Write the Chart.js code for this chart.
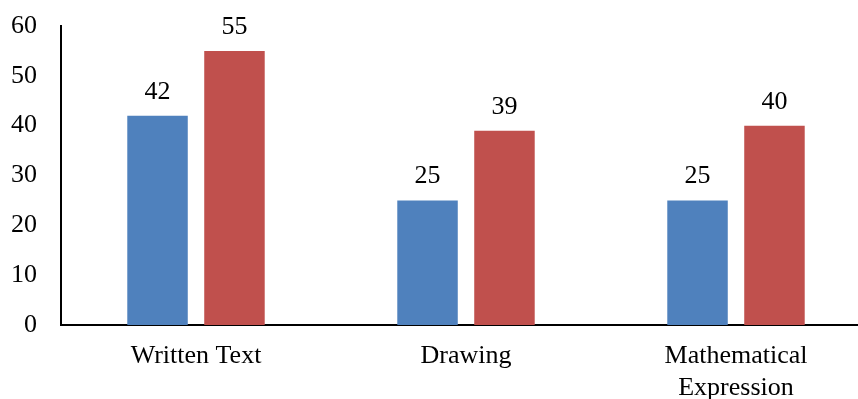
<!DOCTYPE html>
<html>
<head>
<meta charset="utf-8">
<script src="https://cdn.jsdelivr.net/npm/chart.js@4.4.0/dist/chart.umd.min.js"></script>
<style>
  html, body { margin: 0; padding: 0; background: #fff; overflow: hidden; }
</style>
</head>
<body>
<canvas id="barChart" width="871" height="399"></canvas>

<script>
  // categories and series values
  const categories = ["Written Text", "Drawing", ["Mathematical", "Expression"]];
  const seriesBlue = [42, 25, 25];
  const seriesRed = [55, 39, 40];
  const yTicks = [0, 10, 20, 30, 40, 50, 60];

  const serif = "'Liberation Serif', 'Times New Roman', serif";

  // draws the value above each bar
  const valueLabels = {
    id: 'valueLabels',
    afterDatasetsDraw(chart) {
      const ctx = chart.ctx;
      ctx.save();
      ctx.font = "26px " + serif;
      ctx.fillStyle = "#000";
      ctx.textAlign = "center";
      ctx.textBaseline = "alphabetic";
      chart.data.datasets.forEach((ds, i) => {
        chart.getDatasetMeta(i).data.forEach((bar, j) => {
          ctx.fillText(ds.data[j], bar.x, bar.y - 17);
        });
      });
      ctx.restore();
    }
  };

  new Chart("barChart", {
    type: "bar",
    data: {
      labels: categories,
      datasets: [{
        data: seriesBlue,
        backgroundColor: "#4F81BD",
        categoryPercentage: 0.57,
        barPercentage: 0.786
      }, {
        data: seriesRed,
        backgroundColor: "#C0504D",
        categoryPercentage: 0.57,
        barPercentage: 0.786
      }]
    },
    options: {
      responsive: false,
      animation: false,
      layout: {padding: {top: 26, right: 0, left: 0, bottom: 0}},
      scales: {
        x: {
          grid: {display: false, drawTicks: false},
          border: {display: true, color: "#000", width: 2},
          ticks: {
            color: "#000",
            font: {family: serif, size: 26, lineHeight: 1.2},
            padding: 16,
            maxRotation: 0,
            autoSkip: false
          },
          afterFit(scale) {
            scale.height = 74;
            scale.paddingLeft = 0;
            scale.paddingRight = 0;
          }
        },
        y: {
          min: 0,
          max: 60,
          afterBuildTicks(scale) { scale.ticks = yTicks.map(v => ({value: v})); },
          grid: {display: false, drawTicks: false},
          border: {display: true, color: "#000", width: 2},
          ticks: {
            color: "#000",
            font: {family: serif, size: 26},
            padding: 24
          },
          afterFit(scale) {
            scale.width = 61;
            scale.paddingTop = 0;
            scale.paddingBottom = 0;
          }
        }
      },
      plugins: {
        legend: {display: false},
        tooltip: {enabled: false}
      }
    },
    plugins: [valueLabels]
  });
</script>
</body>
</html>
